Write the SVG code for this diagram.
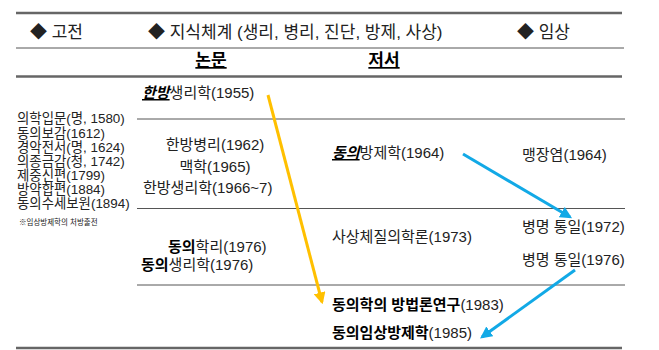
<svg xmlns="http://www.w3.org/2000/svg" width="659" height="350" viewBox="0 0 659 350">
<defs>
<style>
text{font-family:"Liberation Sans","Noto Sans CJK KR",Arial,sans-serif;fill:#222}
.h{font-size:17px}
.b{font-size:15px}
.l{font-size:13.4px}
.n{font-size:7.5px}
.bd{font-weight:bold;fill:#000}
.bi{font-weight:bold;font-style:italic;text-decoration:underline;fill:#000}
.thick{stroke:#666;stroke-width:2.5}
.thin{stroke:#555;stroke-width:1}
</style>
<marker id="ay" viewBox="0 0 10 10" refX="8" refY="5" markerWidth="4" markerHeight="4" orient="auto" markerUnits="strokeWidth"><path d="M0,0 L10,5 L0,10 z" fill="#FFC000"/></marker>
<marker id="ab" viewBox="0 0 10 10" refX="8" refY="5" markerWidth="4" markerHeight="4" orient="auto" markerUnits="strokeWidth"><path d="M0,0 L10,5 L0,10 z" fill="#12A9E6"/></marker>
</defs>
<g id="rules">
<line class="thick" x1="16" y1="13" x2="622" y2="13"/>
<line class="thin" x1="16" y1="48" x2="624" y2="48"/>
<line class="thick" x1="16" y1="76.5" x2="622" y2="76.5"/>
<line class="thin" x1="137" y1="119" x2="625" y2="119"/>
<line class="thin" x1="137" y1="208.5" x2="625" y2="208.5"/>
<line class="thin" x1="137" y1="285" x2="625" y2="285"/>
<line class="thick" x1="16" y1="348" x2="622" y2="348"/>
</g>
<g id="header">
<text class="h" x="30" y="38">◆ 고전</text>
<text class="h" x="148" y="38">◆ 지식체계 (생리, 병리, 진단, 방제, 사상)</text>
<text class="h" x="517" y="38">◆ 임상</text>
<text class="h bd" x="211" y="66" text-anchor="middle" text-decoration="underline">논문</text>
<text class="h bd" x="384" y="66" text-anchor="middle" text-decoration="underline">저서</text>
</g>
<g id="classics">
<text class="l" x="17" y="123">의학입문(명, 1580)</text>
<text class="l" x="17" y="137.5">동의보감(1612)</text>
<text class="l" x="17" y="152">경악전서(명, 1624)</text>
<text class="l" x="17" y="166">의종금감(청, 1742)</text>
<text class="l" x="17" y="180">제중신편(1799)</text>
<text class="l" x="17" y="194">방약합편(1884)</text>
<text class="l" x="17" y="208">동의수세보원(1894)</text>
<text class="n" x="19" y="225">※임상방제학의 처방출전</text>
</g>
<g id="papers">
<text class="b" x="142" y="98"><tspan class="bi">한방</tspan>생리학(1955)</text>
<text class="b" x="215" y="150" text-anchor="middle">한방병리(1962)</text>
<text class="b" x="215" y="172" text-anchor="middle">맥학(1965)</text>
<text class="b" x="143" y="193">한방생리학(1966~7)</text>
<text class="b" x="168" y="252"><tspan class="bd">동의</tspan>학리(1976)</text>
<text class="b" x="141" y="270"><tspan class="bd">동의</tspan>생리학(1976)</text>
</g>
<g id="books">
<text class="b" x="332" y="158"><tspan class="bi">동의</tspan>방제학(1964)</text>
<text class="b" x="332" y="242">사상체질의학론(1973)</text>
<text class="b" x="332" y="310"><tspan class="bd">동의학의 방법론연구</tspan>(1983)</text>
<text class="b" x="332" y="338"><tspan class="bd">동의임상방제학</tspan>(1985)</text>
</g>
<g id="clinic">
<text class="b" x="522" y="160">맹장염(1964)</text>
<text class="b" x="522" y="232">병명 통일(1972)</text>
<text class="b" x="522" y="265">병명 통일(1976)</text>
</g>
<g id="connectors">
<line x1="268" y1="95" x2="322" y2="302" stroke="#FFC000" stroke-width="3" marker-end="url(#ay)"/>
<line x1="463" y1="154" x2="570" y2="217" stroke="#12A9E6" stroke-width="3" marker-end="url(#ab)"/>
<line x1="575" y1="270" x2="482" y2="337" stroke="#12A9E6" stroke-width="3" marker-end="url(#ab)"/>
</g>
</svg>
